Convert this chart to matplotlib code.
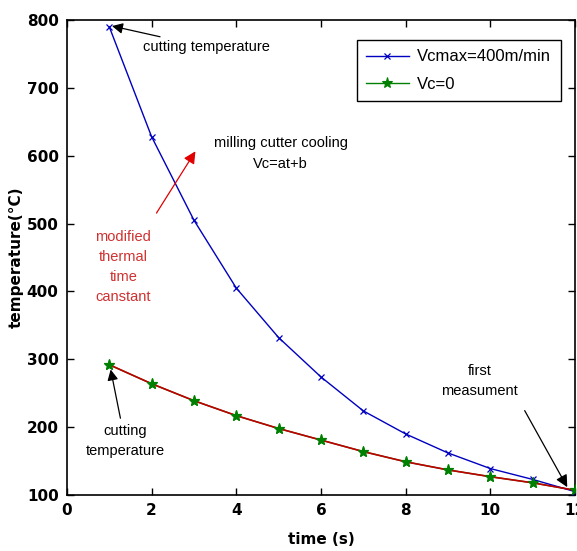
import matplotlib
matplotlib.use("Agg")
import matplotlib.pyplot as plt
from matplotlib import font_manager

t = [1, 2, 3, 4, 5, 6, 7, 8, 9, 10, 11, 12]
vcmax = [790, 628, 505, 405, 332, 274, 224, 190, 162, 139, 123, 105]
vc0 = [292, 264, 239, 217, 198, 181, 164, 149, 137, 127, 118, 107]

xticks = [0, 2, 4, 6, 8, 10, 12]
yticks = [100, 200, 300, 400, 500, 600, 700, 800]

names = {f.name for f in font_manager.fontManager.ttflist}
if 'Liberation Sans Narrow' in names:
    narrow = ['Liberation Sans Narrow', 'DejaVu Sans']
    fs = 12
elif 'DejaVu Sans Condensed' in names:
    narrow = ['DejaVu Sans Condensed', 'DejaVu Sans']
    fs = 10.5
else:
    narrow = ['Liberation Sans', 'DejaVu Sans']
    fs = 10.5

fig = plt.figure(figsize=(5.77, 5.51), dpi=100)
ax = fig.add_axes([0.116, 0.1016, 0.8805, 0.8621])

ax.plot(t, vcmax, color='#0000c0', lw=1.0, marker='x', ms=5, mew=0.9,
        label='Vcmax=400m/min', zorder=3)
ax.plot(t, vc0, color='#008000', lw=1.0, marker='*', ms=8, mew=0.8,
        label='Vc=0', zorder=2)
ax.plot(t, vc0, color='#c00000', lw=1.2, zorder=3)
ax.plot(t, vc0, ls='none', color='#008000', marker='*', ms=8, mew=0.8, zorder=4)

ax.set_xlim(0, 12)
ax.set_ylim(100, 800)
ax.set_xticks(xticks)
ax.set_yticks(yticks)
ax.tick_params(direction='in', top=True, right=True, length=5, width=1,
               labelsize=11, pad=6)
for lab in ax.get_xticklabels() + ax.get_yticklabels():
    lab.set_fontweight('bold')
for s in ax.spines.values():
    s.set_linewidth(1.2)

ax.set_xlabel('time (s)', fontsize=11, fontweight='bold', labelpad=10)
ax.set_ylabel('temperature(°C)', fontsize=11, fontweight='bold', labelpad=2)

leg = ax.legend(loc='upper right', fancybox=False, edgecolor='black',
                framealpha=1, prop={'family': narrow, 'size': fs + 1.5},
                handlelength=2.6, handletextpad=0.5, labelspacing=0.75,
                borderpad=0.55, bbox_to_anchor=(0.988, 0.975))
leg.get_frame().set_linewidth(1.0)

arrow_k = dict(arrowstyle='-|>', color='black', lw=0.9, mutation_scale=16)
ax.annotate('cutting temperature', xy=(1.0, 792), xytext=(1.8, 760),
            fontsize=fs, family=narrow, va='center', ha='left',
            arrowprops=arrow_k)
ax.text(5.05, 603, 'milling cutter cooling\nVc=at+b', fontsize=fs,
        family=narrow, ha='center', va='center', linespacing=1.6)
ax.annotate('', xy=(3.07, 610), xytext=(2.08, 512),
            arrowprops=dict(arrowstyle='-|>', color='#e00000', lw=0.9,
                            mutation_scale=18))
ax.text(1.33, 436, 'modified\nthermal\ntime\ncanstant', fontsize=fs,
        family=narrow, color='#d03030', ha='center', va='center',
        linespacing=1.55)
ax.annotate('cutting\ntemperature', xy=(1.02, 289), xytext=(1.37, 180),
            fontsize=fs, family=narrow, ha='center', va='center',
            linespacing=1.55, arrowprops=arrow_k)
ax.annotate('', xy=(11.85, 108), xytext=(10.78, 228),
            arrowprops=dict(arrowstyle='-|>', color='black', lw=0.9,
                            mutation_scale=18))
ax.text(9.75, 268, 'first\nmeasument', fontsize=fs, family=narrow,
        ha='center', va='center', linespacing=1.55)

fig.savefig('out.png', dpi=100)
